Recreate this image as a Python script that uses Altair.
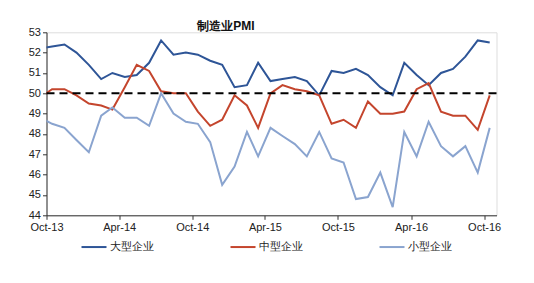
import altair as alt
import pandas as pd

# monthly points, Sep-13 .. Oct-16 (first point sits just left of the axis and is clipped)
months = [f"{2013 + (8 + i) // 12}-{(8 + i) % 12 + 1:02d}-15" for i in range(38)]

large = [52.2, 52.3, 52.4, 52.0, 51.4, 50.7, 51.0, 50.8, 50.9, 51.5,
         52.6, 51.9, 52.0, 51.9, 51.6, 51.4, 50.3, 50.4, 51.5, 50.6,
         50.7, 50.8, 50.6, 49.9, 51.1, 51.0, 51.2, 50.9, 50.3, 49.9,
         51.5, 50.9, 50.4, 51.0, 51.2, 51.8, 52.6, 52.5]
medium = [49.8, 50.2, 50.2, 49.9, 49.5, 49.4, 49.2, 50.3, 51.4, 51.1,
          50.1, 50.0, 50.0, 49.1, 48.4, 48.7, 49.9, 49.4, 48.3, 50.0,
          50.4, 50.2, 50.1, 49.9, 48.5, 48.7, 48.3, 49.6, 49.0, 49.0,
          49.1, 50.2, 50.5, 49.1, 48.9, 48.9, 48.2, 49.9]
small = [48.8, 48.5, 48.3, 47.7, 47.1, 48.9, 49.3, 48.8, 48.8, 48.4,
         50.0, 49.0, 48.6, 48.5, 47.6, 45.5, 46.4, 48.1, 46.9, 48.3,
         47.9, 47.5, 46.9, 48.1, 46.8, 46.6, 44.8, 44.9, 46.1, 44.4,
         48.1, 46.9, 48.6, 47.4, 46.9, 47.4, 46.1, 48.3]

series_names = ["大型企业", "中型企业", "小型企业"]
series_colors = ["#2E5597", "#C4452D", "#8AA4CF"]
y_ticks = [44, 45, 46, 47, 48, 49, 50, 51, 52, 53]
threshold = [50]

rows = []
for name, vals in zip(series_names, [large, medium, small]):
    for d, v in zip(months, vals):
        rows.append({"date": d, "value": v, "series": name})
df = pd.DataFrame(rows)

FONT = "Liberation Sans"

x_ticks = [alt.DateTime(year=2013 + (9 + 6 * i) // 12, month=(9 + 6 * i) % 12 + 1, date=1, utc=True)
           for i in range(7)]

xenc = alt.X(
    "date:T",
    scale=alt.Scale(type="utc",
                    domain=[alt.DateTime(year=2013, month=10, date=1, utc=True),
                            alt.DateTime(year=2016, month=11, date=1, utc=True)]),
    axis=alt.Axis(values=x_ticks, format="%b-%y", title=None, grid=False,
                  labelFont=FONT, labelFontSize=11, labelColor="#222",
                  domainColor="#333", tickColor="#333", tickSize=4,
                  labelPadding=2, labelFlush=False, labelOverlap=False),
)
yscale = alt.Scale(domain=[44, 53], nice=False, zero=False)
yaxis = alt.Axis(values=y_ticks, title=None, grid=False,
                 labelFont=FONT, labelFontSize=11, labelColor="#222",
                 domainColor="#333", tickColor="#333", tickSize=4,
                 labelPadding=2, labelOverlap=False, labelFlush=False)

lines = alt.Chart(df).mark_line(strokeWidth=2, clip=True).encode(
    x=xenc,
    y=alt.Y("value:Q", scale=yscale, axis=yaxis),
    color=alt.Color("series:N",
                    scale=alt.Scale(domain=series_names, range=series_colors),
                    sort=series_names,
                    legend=alt.Legend(orient="none", legendX=34, legendY=201,
                                      direction="horizontal", title=None,
                                      symbolType="stroke", symbolSize=625,
                                      symbolStrokeWidth=2, labelFont=FONT,
                                      labelFontSize=11, labelColor="#222",
                                      labelOffset=2, columnPadding=73,
                                      padding=0)),
)

rule = alt.Chart(pd.DataFrame({"y": threshold})).mark_rule(
    color="black", strokeWidth=2, strokeDash=[8, 5]
).encode(y=alt.Y("y:Q", scale=yscale, axis=yaxis))

chart = alt.layer(lines, rule).properties(
    width=450, height=183,
    padding={"left": 46.5, "top": 32.3, "right": 37.5, "bottom": 67.7},
    autosize=alt.AutoSizeParams(type="none"),
    title=alt.TitleParams("制造业PMI", anchor="start", dx=169, offset=-7,
                          fontSize=12, fontWeight="bold", font=FONT, color="#111"),
).configure_view(stroke=None).configure(background="white")

chart.save("out.html", embed_options={"renderer": "svg", "actions": False})
